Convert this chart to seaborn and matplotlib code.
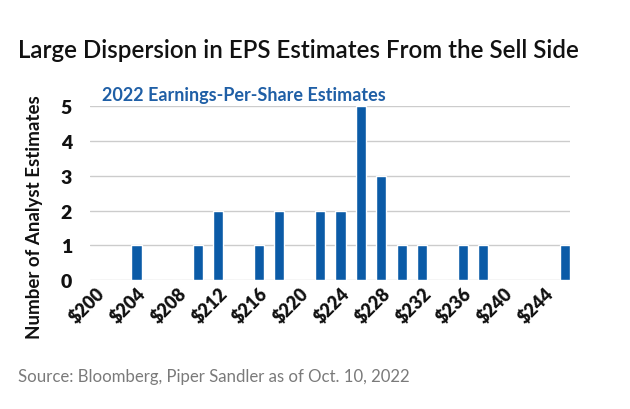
import matplotlib
matplotlib.use("Agg")
import matplotlib.pyplot as plt
import seaborn as sns
import pandas as pd

# Data
eps_values = list(range(200, 248, 2))  # $200 .. $246 in $2 bins
counts = [0, 0, 1, 0, 0, 1, 2, 0, 1, 2, 0, 2, 2, 5, 3, 1, 1, 0, 1, 1, 0, 0, 0, 1]
categories = [f"${v}" for v in eps_values]
y_ticks = [0, 1, 2, 3, 4, 5]

title = "Large Dispersion in EPS Estimates From the Sell Side"
subtitle = "2022 Earnings-Per-Share Estimates"
ylabel = "Number of Analyst Estimates"
source = "Source: Bloomberg, Piper Sandler as of Oct. 10, 2022"

BLUE = "#0B5BA7"

sns.set_theme(style="white")
plt.rcParams["font.family"] = ["Lato", "DejaVu Sans"]

df = pd.DataFrame({"eps": categories, "count": counts})

fig = plt.figure(figsize=(6.3, 4.1), dpi=100)
ax = fig.add_axes([90 / 630, 1 - 281 / 410, 480 / 630, (281 - 107.3) / 410])

sns.barplot(data=df, x="eps", y="count", order=categories, color=BLUE,
            saturation=1, width=0.5, ax=ax, zorder=3)

ax.set_xlim(-0.28, 23.25)
ax.set_ylim(0, 5)
ax.set_yticks(y_ticks)
ax.set_yticklabels([str(t) for t in y_ticks], fontsize=14, fontweight="heavy", color="#111111")
ax.yaxis.grid(True, color="#CCCCCC", linewidth=1.0, zorder=0)
ax.xaxis.grid(False)
for s in ax.spines.values():
    s.set_visible(False)
ax.tick_params(axis="y", length=0, pad=13)
ax.tick_params(axis="x", length=0, pad=3)

ax.set_xticks(range(0, len(categories), 2))
ax.set_xticklabels(categories[::2], rotation=45, ha="right", rotation_mode="anchor",
                   fontsize=13, fontweight="heavy", color="#111111")
ax.set_xlabel("")
ax.set_ylabel("")

fig.text(35 / 630, 1 - 217 / 410, ylabel, rotation=90, ha="center", va="center",
         fontsize=13.5, fontweight="bold", color="#111111")
fig.text(18 / 630, 1 - 50 / 410, title, ha="left", va="center",
         fontsize=17.4, fontweight="semibold", color="#111111")
fig.text(102 / 630, 1 - 95 / 410, subtitle, ha="left", va="center",
         fontsize=13, fontweight="bold", color="#1F5FA6")
fig.text(18 / 630, 1 - 377 / 410, source, ha="left", va="center",
         fontsize=12.1, fontweight="normal", color="#7A7A7A")

fig.savefig("out.png", dpi=100)
